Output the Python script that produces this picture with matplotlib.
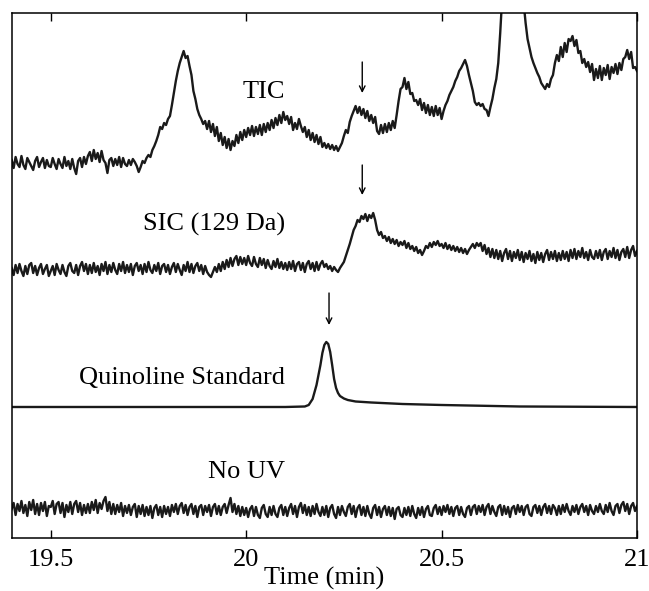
import numpy as np
import matplotlib
matplotlib.use('Agg')
import matplotlib.pyplot as plt

# signals, every 0.005 min from 19.4 to 21.0 (arbitrary units)
tic = [
    3, -5, 6, -1, -4, 7, -2, -6, 5, 1, -3, -7, 2, 6, -4, 1, 5, -5, 3, -3,
    -4, 5, -1, -6, 4, -1, -5, 6, -3, 2, -6, 4, -5, -11, 2, 5, -4, 6, -1, 7,
    11, 2, 13, 4, 10, 1, 12, 3, 0, -10, 3, 5, -3, 4, -2, 6, -4, 5, -1, -3,
    3, -2, 4, 1, -3, -9, -4, 2, 0, 5, 8, 6, 13, 17, 22, 28, 36, 34, 40, 38,
    44, 47, 58, 70, 82, 92, 100, 106, 112, 105, 107, 97, 88, 72, 64, 54, 48, 44, 39, 42,
    34, 42, 31, 39, 27, 36, 22, 30, 18, 26, 15, 24, 13, 22, 17, 28, 20, 31, 23, 33,
    26, 35, 28, 37, 27, 36, 29, 38, 28, 39, 31, 40, 33, 43, 35, 45, 38, 48, 40, 51,
    43, 47, 39, 46, 33, 40, 34, 44, 37, 31, 36, 26, 33, 23, 30, 21, 28, 19, 26, 16,
    20, 15, 19, 14, 18, 13, 17, 12, 16, 20, 27, 33, 30, 41, 47, 52, 57, 50, 56, 48,
    54, 45, 52, 42, 48, 40, 46, 32, 29, 38, 30, 39, 31, 40, 33, 42, 35, 48, 62, 74,
    76, 85, 74, 81, 69, 70, 62, 63, 58, 64, 53, 60, 50, 58, 48, 56, 47, 57, 48, 55,
    44, 52, 58, 62, 68, 72, 76, 82, 86, 92, 95, 99, 103, 97, 88, 80, 72, 61, 58, 60,
    57, 59, 54, 53, 47, 56, 64, 75, 84, 100, 130, 165, 210, 250, 280, 300, 305, 300, 285, 260,
    225, 190, 160, 140, 124, 115, 106, 100, 95, 90, 86, 80, 77, 74, 79, 76, 84, 88, 100, 108,
    102, 116, 106, 120, 111, 124, 122, 127, 117, 123, 110, 112, 100, 104, 96, 101, 91, 99, 83, 94,
    85, 97, 83, 95, 88, 98, 84, 96, 90, 99, 89, 100, 93, 104, 106, 113, 104, 111, 95, 96,
    92,
]

sic = [
    2, -5, 5, -3, 6, -1, -6, 4, -4, 5, 7, -3, 4, -5, 2, 6, -4, 1, 5, -6,
    -1, 4, -5, 6, 0, -4, 5, -2, -6, 4, 7, -1, -3, 5, -5, 4, 8, -1, 6, -4,
    5, -3, 7, -2, 4, -5, 6, -1, 8, -4, 5, -2, 7, 0, -4, 6, -1, 8, -3, 5,
    -2, 6, -5, 4, 7, -1, 5, -4, 6, -2, 8, 0, -3, 5, -1, 7, -4, 4, 6, -2,
    5, -4, 3, 7, -2, 6, 0, -5, 5, -1, 8, -2, 6, -3, 4, 7, -1, 5, -4, 4,
    -2, -5, -7, -2, 3, -2, 6, -1, 8, 1, 10, 3, 12, 4, 11, 14, 5, 13, 6, 12,
    5, 14, 7, 4, 13, 6, 3, 12, 5, 11, 2, 10, 4, 1, 9, 3, 11, 2, 8, 1,
    7, 0, 8, 1, 9, -1, 6, 8, 0, 7, -2, 6, 9, 1, 7, -1, 8, 0, 6, 9,
    3, 6, 1, 4, -1, 3, 0, -2, 2, 5, 8, 14, 20, 26, 33, 40, 44, 50, 48, 54,
    51, 56, 49, 55, 52, 57, 50, 40, 35, 38, 32, 34, 29, 33, 27, 31, 26, 30, 24, 28,
    25, 29, 22, 27, 21, 24, 19, 23, 17, 20, 15, 19, 24, 22, 27, 23, 28, 25, 29, 24,
    26, 22, 27, 21, 25, 20, 24, 19, 23, 18, 22, 17, 21, 16, 20, 23, 26, 22, 27, 24,
    27, 19, 25, 16, 22, 13, 21, 12, 20, 11, 19, 9, 17, 21, 11, 19, 9, 18, 12, 20,
    10, 18, 8, 17, 11, 19, 9, 16, 7, 18, 10, 17, 8, 16, 20, 10, 18, 11, 19, 9,
    17, 10, 19, 11, 18, 9, 20, 12, 21, 11, 19, 13, 22, 12, 18, 10, 20, 13, 11, 19,
    12, 20, 10, 18, 21, 11, 19, 13, 22, 12, 20, 10, 18, 21, 13, 23, 12, 20, 24, 14,
    19,
]

no_uv = [
    3, 9, -3, 8, 1, 11, -1, 7, -4, 10, 2, 12, -2, 8, -3, 9, 1, 10, -4, 6,
    5, 11, -2, 8, 10, -1, 9, -5, 7, 0, 10, -2, 8, 11, 0, 9, -3, 7, -1, 8,
    -1, 10, 2, 12, -1, 9, 3, 11, 15, 1, 10, -2, 8, -2, 7, 0, 9, -4, 6, -1,
    7, -3, 5, 8, -5, 6, -2, 7, -4, 5, -3, 6, -6, 4, 7, -3, 5, -5, 6, -2,
    5, -4, 7, 0, 8, -2, 6, 9, -1, 7, -3, 5, 8, -2, 6, -5, 5, 7, -3, 6,
    0, 7, -4, 5, 8, -2, 6, -3, 5, 8, -1, 7, 14, 0, 8, -2, 6, -4, 5, -3,
    4, -5, 3, 6, -4, 5, -3, -6, 4, 7, -2, -5, 5, -3, 6, -2, -5, 4, 7, -3,
    5, -4, 4, 8, -2, 6, -5, 5, 9, -1, 7, -3, 5, -4, 6, -2, 8, 0, -4, 5,
    -3, 6, -5, 4, 7, -2, -6, 5, -3, 6, 0, -4, 5, 8, -2, 6, -5, 4, 7, -3,
    5, -4, 6, -2, -6, 4, 7, -3, 5, -5, 3, 6, -3, 5, -4, 4, -7, 3, 5, -3,
    -5, 4, -3, 5, -4, 6, -2, -6, 4, -3, 5, -5, 3, 6, -3, -4, 4, 7, -2, 5,
    -3, 6, 0, 7, -2, 5, -4, 4, 6, -3, 5, -2, -5, 4, 6, -3, 5, 7, -2, 6,
    0, 7, -3, 5, 8, -2, 6, 0, -4, 5, 7, -3, 6, -2, 5, -5, 4, 6, -2, 7,
    0, 6, -3, 5, 7, -2, -4, 5, 7, -1, 6, -3, 5, 8, -1, 6, -2, 7, 4, -3,
    6, -2, 7, 0, 8, 1, -3, 6, 0, 7, -2, 5, 8, 0, 6, -3, 7, 1, -2, 6,
    0, 8, 1, -2, 7, 0, 9, 1, -3, 6, 8, -1, 7, 10, 1, 8, -2, 6, 9, 1,
    6,
]

# quinoline standard is smooth, so fewer points
quin_time = [19.40, 20.10, 20.150, 20.160, 20.170, 20.180, 20.190, 20.195, 20.200, 20.205,
             20.210, 20.215, 20.220, 20.225, 20.230, 20.235, 20.240, 20.250, 20.260, 20.280,
             20.320, 20.400, 20.500, 20.700, 21.00]
quin = [0, 0, 0.5, 2, 8, 22, 42, 54, 62, 65,
        63, 55, 42, 28, 19, 14, 11, 8.5, 7, 5.5,
        4.5, 3, 2, 0.5, 0]

# vertical offsets of the stacked traces
offsets = {'tic': 375, 'sic': 268, 'quin': 131, 'no_uv': 26}

labels = ['TIC', 'SIC (129 Da)', 'Quinoline Standard', 'No UV']
label_y = [446, 314, 160, 66]
label_x = 20.10

arrow_x = [20.297, 20.297, 20.212]
arrow_tail = [476, 373, 245]
arrow_tip = [445, 343, 213]

xticks = [19.5, 20, 20.5, 21]
xtick_labels = ['19.5', '20', '20.5', '21']

plt.rcParams['font.family'] = ['Liberation Serif', 'DejaVu Serif']

fig = plt.figure(figsize=(6.49, 5.91), dpi=100)
ax = fig.add_axes([0.018, 0.0897, 0.9635, 0.8888])

lw = 1.7
for name, values in [('tic', tic), ('sic', sic), ('no_uv', no_uv)]:
    t = np.linspace(19.4, 21.0, len(values))
    ax.plot(t, np.array(values, dtype=float) + offsets[name], color='#1a1a1a', lw=lw)
ax.plot(quin_time, np.array(quin) + offsets['quin'], color='#1a1a1a', lw=lw)

for lab, y in zip(labels, label_y):
    ax.text(label_x, y, lab, ha='right', va='center', fontsize=19)

for x, y0, y1 in zip(arrow_x, arrow_tail, arrow_tip):
    ax.annotate('', xy=(x, y1), xytext=(x, y0),
                arrowprops=dict(arrowstyle='->', color='black', lw=1.0,
                                shrinkA=0, shrinkB=0))

ax.set_xlim(19.4, 21.0)
ax.set_ylim(0, 525.3)
ax.set_xticks(xticks)
ax.set_xticklabels(xtick_labels, fontsize=19)
ax.set_yticks([])
ax.tick_params(axis='x', direction='in', top=True, length=6, width=1, pad=8)
for sp in ax.spines.values():
    sp.set_linewidth(1.1)
ax.set_xlabel('Time (min)', fontsize=19, labelpad=-3)

fig.savefig('out.png', dpi=100)
